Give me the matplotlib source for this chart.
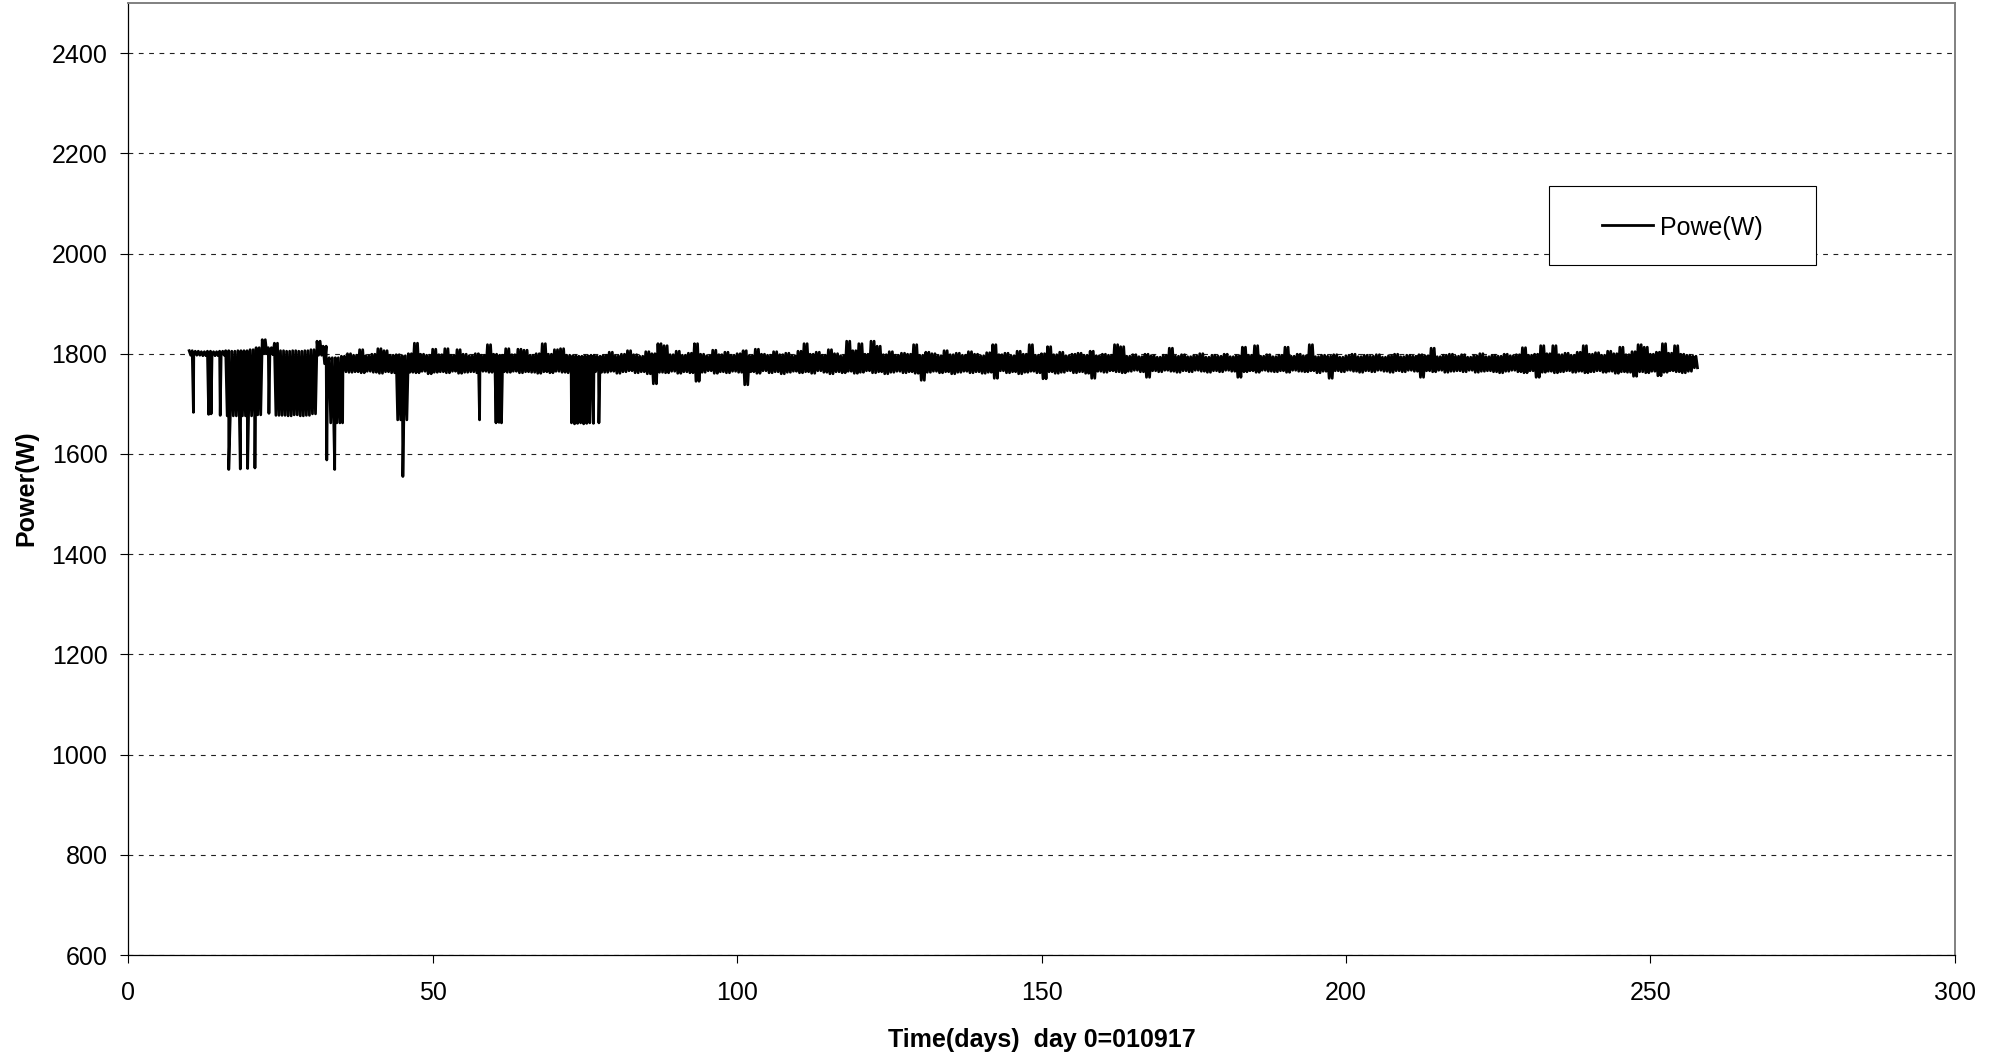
import numpy as np
import matplotlib
matplotlib.use('Agg')
from matplotlib import pylab as plt
from matplotlib.patches import Rectangle
from matplotlib.lines import Line2D

plt.rcParams['font.family'] = ['Liberation Sans', 'DejaVu Sans']

# daily max / min of the power reading (W), one value per day starting at first_day
first_day = 10
power_hi = [1806,1805,1804,1805,1804,1805,1806,1805,1806,1806,
            1808,1812,1828,1812,1821,1806,1805,1806,1805,1806,
            1808,1825,1815,1792,1792,1795,1800,1797,1808,1796,
            1799,1810,1806,1797,1798,1796,1800,1821,1799,1797,
            1809,1798,1810,1797,1808,1799,1796,1800,1797,1818,
            1799,1797,1810,1798,1809,1807,1797,1800,1820,1799,
            1808,1810,1797,1796,1795,1796,1797,1795,1797,1803,
            1796,1799,1806,1798,1795,1804,1800,1820,1816,1798,
            1805,1797,1801,1820,1799,1796,1807,1798,1803,1797,
            1800,1806,1796,1809,1799,1797,1804,1798,1801,1796,
            1805,1820,1799,1803,1797,1808,1800,1796,1825,1806,
            1820,1799,1825,1815,1798,1804,1797,1801,1799,1818,
            1797,1803,1800,1796,1806,1798,1801,1797,1804,1799,
            1796,1802,1818,1798,1801,1796,1805,1799,1818,1797,
            1800,1814,1798,1803,1796,1799,1801,1797,1805,1796,
            1799,1797,1818,1814,1795,1798,1794,1799,1796,1793,
            1797,1811,1795,1798,1794,1796,1800,1793,1797,1795,
            1799,1794,1796,1813,1797,1816,1795,1798,1794,1797,
            1813,1795,1799,1796,1818,1794,1797,1795,1798,1793,
            1796,1799,1794,1797,1795,1798,1793,1796,1799,1794,
            1797,1795,1798,1796,1811,1794,1797,1799,1795,1798,
            1793,1796,1800,1794,1797,1795,1799,1796,1798,1812,
            1797,1799,1816,1800,1816,1798,1801,1797,1803,1816,
            1799,1802,1797,1805,1800,1813,1798,1804,1818,1813,
            1799,1803,1820,1801,1816,1799,1797,1795]
power_lo = [1797,1797,1796,1797,1796,1797,1676,1676,1676,1676,
            1676,1678,1800,1798,1677,1677,1676,1678,1676,1677,
            1680,1797,1780,1662,1662,1764,1763,1764,1762,1765,
            1763,1761,1764,1762,1668,1668,1763,1762,1765,1760,
            1763,1764,1762,1765,1761,1763,1764,1762,1765,1763,
            1762,1764,1763,1765,1762,1764,1763,1761,1764,1762,
            1765,1763,1762,1764,1763,1762,1764,1763,1763,1765,
            1761,1764,1766,1762,1764,1760,1740,1763,1762,1765,
            1761,1764,1762,1745,1763,1766,1761,1764,1762,1765,
            1763,1738,1764,1761,1766,1762,1764,1760,1763,1765,
            1762,1764,1761,1766,1763,1760,1764,1762,1765,1761,
            1763,1766,1762,1764,1760,1763,1765,1762,1764,1761,
            1747,1763,1765,1762,1764,1760,1763,1765,1762,1764,
            1761,1763,1751,1766,1762,1764,1760,1763,1765,1762,
            1750,1764,1761,1763,1766,1762,1764,1761,1751,1765,
            1763,1766,1764,1762,1765,1767,1764,1753,1766,1764,
            1767,1765,1763,1766,1764,1767,1765,1763,1766,1764,
            1767,1765,1753,1764,1766,1763,1767,1765,1764,1766,
            1763,1767,1765,1764,1766,1762,1765,1751,1766,1764,
            1767,1765,1763,1766,1764,1767,1765,1763,1766,1764,
            1767,1765,1753,1766,1764,1767,1763,1765,1766,1764,
            1767,1763,1765,1766,1764,1762,1765,1767,1764,1762,
            1766,1753,1763,1765,1762,1764,1766,1763,1765,1762,
            1764,1766,1763,1765,1761,1764,1763,1755,1764,1762,
            1765,1756,1763,1766,1764,1762,1765,1772]

# short drop-outs of the power
dip_days = [10.7,13.2,13.6,15.1,16.5,18.4,19.6,20.8,23.1,32.6,33.9,35.2,45.1,57.7,
            60.4,60.9,61.3,72.8,73.3,73.8,74.3,74.8,75.3,75.8,76.4,77.3]
dip_power = [1683,1679,1680,1677,1569,1570,1571,1572,1681,1588,1569,1662,1555,1668,
             1662,1663,1662,1662,1660,1661,1662,1660,1661,1662,1661,1662]

yticks = list(range(600, 2401, 200))
xticks = list(range(0, 301, 50))

# build the trace: swing between daily max and min twice a day, then add the dips
days = np.arange(first_day, first_day + len(power_hi))
t = (days[:, None] + np.array([0, 0.25, 0.5, 0.75])).ravel()
p = np.column_stack([power_hi, power_lo, power_hi, power_lo]).ravel()
t = np.concatenate([t, dip_days])
p = np.concatenate([p, dip_power])
order = np.argsort(t, kind='stable')
t = t[order]
p = p[order]

fig = plt.figure(figsize=(20, 10.59), dpi=100)
ax = fig.add_axes([0.06415, 0.0982, 0.9132, 0.8990])
ax.plot(t, p, color='black', lw=2.0, zorder=3)

ax.set_xlim(0, 300)
ax.set_ylim(600, 2500)
ax.set_xticks(xticks)
ax.set_yticks(yticks)
ax.tick_params(axis='both', direction='out', length=5.5, width=0.8, labelsize=18, color='black')
ax.tick_params(axis='y', pad=9.5)
ax.tick_params(axis='x', pad=13)

ax.yaxis.grid(True, color='#202020', lw=0.8, dashes=(4.3, 5.0))
ax.set_axisbelow(True)

for s in ['left', 'bottom']:
    ax.spines[s].set_color('black')
    ax.spines[s].set_linewidth(0.9)
for s in ['top', 'right']:
    ax.spines[s].set_color('#808080')
    ax.spines[s].set_linewidth(1.4)

ax.set_ylabel('Power(W)', fontsize=18, fontweight='bold')
ax.yaxis.set_label_coords(-0.0495, 0.49)
ax.set_xlabel('Time(days)  day 0=010917', fontsize=18, fontweight='bold')
ax.xaxis.set_label_coords(0.5, -0.077)

# legend box drawn by hand to match the excel layout
W, H = 2000.0, 1059.0
box = Rectangle((1549/W, 1-265/H), 267/W, 79/H, transform=fig.transFigure,
                facecolor='white', edgecolor='black', lw=0.8, zorder=5)
fig.add_artist(box)
fig.add_artist(Line2D([1602/W, 1653/W], [1-225/H, 1-225/H], transform=fig.transFigure,
                      color='black', lw=2.0, zorder=6))
fig.text(1660/W, 1-235/H, 'Powe(W)', fontsize=18, va='baseline', ha='left', zorder=6)

fig.savefig('out.png', dpi=100)
